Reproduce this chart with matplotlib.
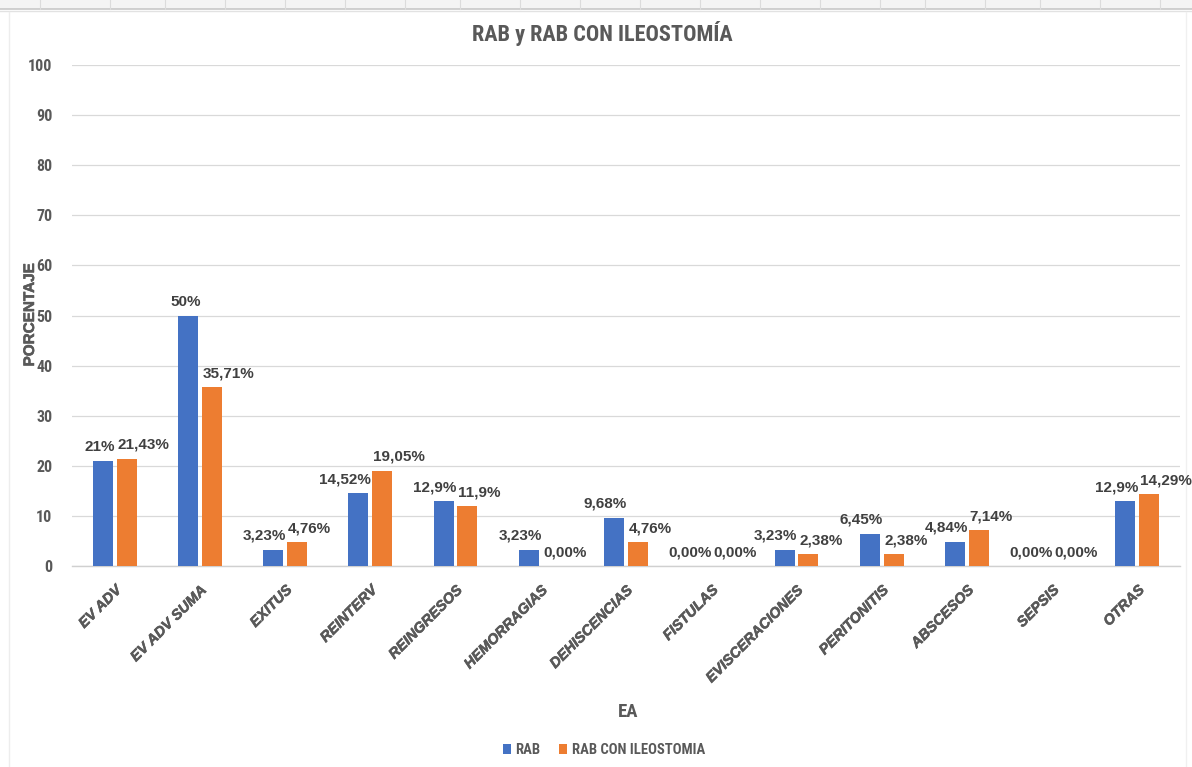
import matplotlib
matplotlib.use("Agg")
import matplotlib.pyplot as plt
import matplotlib.patheffects as pe
import numpy as np

categories = ["EV ADV", "EV ADV SUMA", "EXITUS", "REINTERV", "REINGRESOS",
              "HEMORRAGIAS", "DEHISCENCIAS", "FISTULAS", "EVISCERACIONES",
              "PERITONITIS", "ABSCESOS", "SEPSIS", "OTRAS"]
rab = [21, 50, 3.23, 14.52, 12.9, 3.23, 9.68, 0, 3.23, 6.45, 4.84, 0, 12.9]
rab_ileo = [21.43, 35.71, 4.76, 19.05, 11.9, 0, 4.76, 0, 2.38, 2.38, 7.14, 0, 14.29]
series_names = ["RAB", "RAB CON ILEOSTOMIA"]
yticks = [0, 10, 20, 30, 40, 50, 60, 70, 80, 90, 100]

BLUE = "#4472C4"
ORANGE = "#ED7D31"
TXT = "#595959"
LBL = "#404040"
NARROW = ["Roboto Condensed", "Archivo Narrow", "Liberation Sans"]
WIDE = ["Arimo", "Liberation Sans", "DejaVu Sans"]
heavy = [pe.withStroke(linewidth=0.4, foreground=TXT)]


def fmt(v):
    if v == 0:
        return "0,00%"
    return f"{v:g}".replace(".", ",") + "%"


fig = plt.figure(figsize=(11.92, 7.67), dpi=100)

# spreadsheet frame behind the chart
bg = fig.add_axes([0, 0, 1, 1], zorder=-5)
bg.set_xlim(0, 1192)
bg.set_ylim(767, 0)
bg.axis("off")
bg.fill_between([0, 1192], 0, 9, color="#F4F4F4", lw=0)
bg.plot([0, 1192], [9, 9], color="#C8C8C8", lw=1.2)
bg.plot([0, 1192], [11, 11], color="#E2E2E2", lw=1)
for xv in [40, 110, 165, 225, 285, 345, 405, 460, 520, 580, 640, 700, 760, 820,
           880, 925, 985, 1040, 1100, 1160]:
    bg.plot([xv, xv], [0, 9], color="#DCDCDC", lw=0.8)
bg.plot([9, 9], [12, 767], color="#EDEDED", lw=1)
bg.plot([1186, 1186], [12, 767], color="#F0F0F0", lw=1)

ax = fig.add_axes([72 / 1192, 1 - 566 / 767, 1108 / 1192, 501 / 767])
x = np.arange(len(categories))
w = 0.235
off = 0.14
b1 = ax.bar(x - off, rab, w, color=BLUE, label=series_names[0], zorder=3)
b2 = ax.bar(x + off, rab_ileo, w, color=ORANGE, label=series_names[1], zorder=3)

# value labels: left series pushed left, right series pushed right
for i in range(len(categories)):
    ax.annotate(fmt(rab[i]), (x[i] + 0.01, rab[i]), xytext=(0, 5),
                textcoords="offset points", ha="right", va="bottom",
                fontsize=11, fontweight="bold", color=LBL, family=WIDE)
    ax.annotate(fmt(rab_ileo[i]), (x[i] + 0.03, rab_ileo[i]), xytext=(0, 5),
                textcoords="offset points", ha="left", va="bottom",
                fontsize=11, fontweight="bold", color=LBL, family=WIDE)

ax.set_xlim(-0.5, len(categories) - 0.5)
ax.set_ylim(0, 100)
ax.set_yticks(yticks)
ax.set_yticklabels([str(t) for t in yticks], fontsize=11.5, fontweight="bold",
                   family=NARROW, color=TXT)
ax.tick_params(axis="y", length=0, pad=14)
ax.set_xticks(x)
ax.set_xticklabels(categories, rotation=45, ha="right", rotation_mode="anchor",
                   fontsize=10.5, fontweight="bold", fontstyle="italic",
                   color=TXT, family=WIDE)
for t in ax.get_xticklabels():
    t.set_path_effects(heavy)
ax.tick_params(axis="x", length=0, pad=12)
ax.grid(axis="y", color="#D9D9D9", lw=0.9, zorder=0)
for s in ["top", "right", "left"]:
    ax.spines[s].set_visible(False)
ax.spines["bottom"].set_color("#D0D0D0")
ax.spines["bottom"].set_linewidth(1)

fig.text(602 / 1192, 1 - 33 / 767, "RAB y RAB CON ILEOSTOMÍA", fontsize=16,
         fontweight="bold", family=NARROW, color=TXT, ha="center", va="center")
fig.text(30 / 1192, 1 - 315 / 767, "PORCENTAJE", rotation=90, fontsize=11,
         fontweight="bold", color=TXT, ha="center", va="center", family=WIDE,
         path_effects=heavy)
fig.text(628 / 1192, 1 - 712 / 767, "EA", fontsize=13.5, fontweight="bold",
         family=NARROW, color=TXT, ha="center", va="center")

leg = fig.legend(handles=[b1, b2], labels=series_names, loc="center",
                 bbox_to_anchor=(604 / 1192, 1 - 750 / 767), ncol=2,
                 frameon=False, prop={"family": NARROW, "weight": "bold", "size": 10.5},
                 handlelength=0.55, handleheight=0.75, handletextpad=0.3,
                 columnspacing=1.3)
for t in leg.get_texts():
    t.set_color(TXT)

fig.savefig("out.png", dpi=100, facecolor="white")
